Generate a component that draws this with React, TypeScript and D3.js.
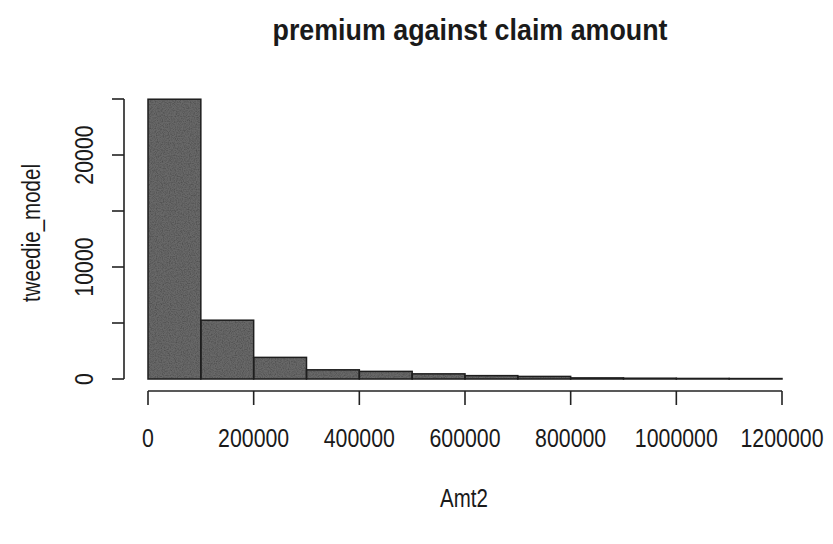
import React from "react";
import * as d3 from "d3";

// Histogram bins of Amt2 (width 100000) and their counts
const binEdges = [0, 100000, 200000, 300000, 400000, 500000, 600000, 700000, 800000, 900000, 1000000, 1100000, 1200000];
const counts = [24980, 5250, 1930, 820, 680, 460, 300, 230, 100, 70, 50, 40];
const xTicks = [0, 200000, 400000, 600000, 800000, 1000000, 1200000];
const yTicks = [0, 5000, 10000, 15000, 20000, 25000];
const yLabelTicks = [0, 10000, 20000];

const W = 833;
const H = 544;
const sans = "'Liberation Sans', Arial, sans-serif";
// narrow glyphs: regular sans squeezed horizontally along the text direction
const squeeze = 0.82;

function NarrowText({ tx, ty, rot = 0, size, children }: { tx: number; ty: number; rot?: number; size: number; children: React.ReactNode }) {
  return (
    <text transform={`translate(${tx},${ty}) rotate(${rot}) scale(${squeeze},1)`} textAnchor="middle"
      fontFamily={sans} fontSize={size} fill="#1a1a1a">
      {children}
    </text>
  );
}

export default function App() {
  const x = d3.scaleLinear().domain([0, 1200000]).range([148, 782]);
  const y = d3.scaleLinear().domain([0, 25000]).range([379, 99]);
  const axisY = 391;
  const axisX = 124;
  const bins = counts.map((c, i) => ({ x0: binEdges[i], x1: binEdges[i + 1], c }));

  return (
    <svg width={W} height={H} style={{ position: "absolute", left: 0, top: 0, background: "#fff" }}>
      <defs>
        <filter id="grain" x="0" y="0" width="100%" height="100%">
          <feTurbulence type="fractalNoise" baseFrequency="0.85" numOctaves="2" seed="3" result="noise" />
          <feColorMatrix in="noise" type="matrix"
            values="0 0 0 0 0  0 0 0 0 0  0 0 0 0 0  0 0 0 0.9 -0.35" result="dots" />
          <feComposite in="dots" in2="SourceGraphic" operator="in" result="dotsIn" />
          <feMerge>
            <feMergeNode in="SourceGraphic" />
            <feMergeNode in="dotsIn" />
          </feMerge>
        </filter>
      </defs>
      <rect x={0} y={0} width={W} height={H} fill="#fff" />

      {/* title */}
      <text x={470} y={40} textAnchor="middle" fontFamily={sans}
        fontWeight="bold" fontSize={29} textLength={395} lengthAdjust="spacingAndGlyphs" fill="#1a1a1a">
        premium against claim amount
      </text>

      {/* bars */}
      <g filter="url(#grain)">
        {bins.map((b, i) => (
          <rect key={i} x={x(b.x0)} y={y(b.c)} width={x(b.x1) - x(b.x0)} height={y(0) - y(b.c)}
            fill="#686868" />
        ))}
      </g>
      <g>
        {bins.map((b, i) => (
          <rect key={i} x={x(b.x0)} y={y(b.c)} width={x(b.x1) - x(b.x0)} height={y(0) - y(b.c)}
            fill="none" stroke="#1e1e1e" strokeWidth={1.5} />
        ))}
      </g>

      {/* x axis */}
      <g stroke="#222" strokeWidth={1.6} fill="none">
        <line x1={x(0)} x2={x(1200000)} y1={axisY} y2={axisY} />
        {xTicks.map((t) => (
          <line key={t} x1={x(t)} x2={x(t)} y1={axisY} y2={axisY + 14} />
        ))}
      </g>
      {xTicks.map((t) => (
        <NarrowText key={t} tx={x(t)} ty={447} size={26}>{String(t)}</NarrowText>
      ))}

      {/* y axis */}
      <g stroke="#222" strokeWidth={1.6} fill="none">
        <line x1={axisX} x2={axisX} y1={y(0)} y2={y(25000)} />
        {yTicks.map((t) => (
          <line key={t} x1={axisX - 12} x2={axisX} y1={y(t)} y2={y(t)} />
        ))}
      </g>
      {yLabelTicks.map((t) => (
        <NarrowText key={t} tx={93} ty={y(t)} rot={-90} size={26}>{String(t)}</NarrowText>
      ))}

      {/* axis titles */}
      <NarrowText tx={464} ty={507} size={25}>Amt2</NarrowText>
      <NarrowText tx={40} ty={233} rot={-90} size={25}>tweedie_model</NarrowText>
    </svg>
  );
}
